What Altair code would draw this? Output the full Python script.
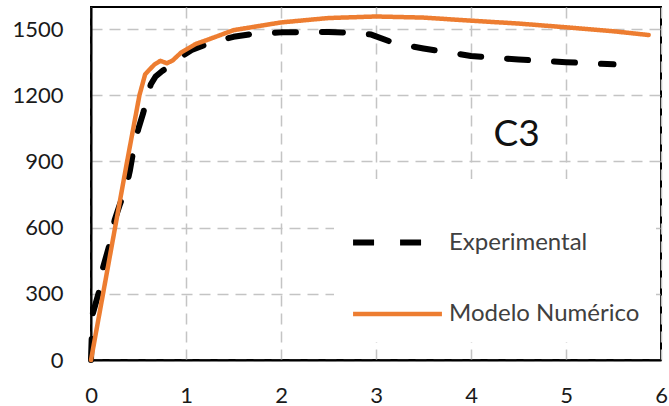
import altair as alt
import pandas as pd

# Experimental curve (x, y)
exp_x = [0, 0.015, 0.085, 0.12, 0.19, 0.25, 0.30, 0.375, 0.41, 0.45, 0.50, 0.55, 0.59, 0.63, 0.68,
         0.75, 0.83, 0.95, 1.06, 1.27, 1.5, 1.7, 2.0, 2.5, 2.75, 2.95, 3.2, 3.5, 4.0, 4.5, 5.0, 5.5]
exp_y = [0, 205, 310, 409, 515, 636, 700, 790, 860, 960, 1050, 1120, 1190, 1250, 1285,
         1310, 1333, 1375, 1405, 1440, 1465, 1478, 1485, 1487, 1483, 1475, 1435, 1412, 1378, 1362, 1350, 1340]

# Numerical model curve (x, y)
num_x = [0, 0.38, 0.51, 0.57, 0.62, 0.67, 0.73, 0.80, 0.86, 0.95, 1.1, 1.25, 1.5, 2.0, 2.5, 3.0,
         3.5, 4.0, 4.5, 5.0, 5.5, 5.87]
num_y = [0, 900, 1200, 1295, 1318, 1340, 1356, 1345, 1358, 1394, 1432, 1455, 1495, 1530, 1550, 1557,
         1552, 1538, 1525, 1508, 1490, 1473]

series_names = ["Experimental", "Modelo Numérico"]
x_ticks = [0, 1, 2, 3, 4, 5, 6]
y_ticks = [0, 300, 600, 900, 1200, 1500]

label_text = ["C3"]
label_x = [4.48]
label_y = [1018]

df = pd.concat([
    pd.DataFrame({"x": exp_x, "y": exp_y, "serie": series_names[0]}),
    pd.DataFrame({"x": num_x, "y": num_y, "serie": series_names[1]}),
])
df_lab = pd.DataFrame({"t": label_text, "x": label_x, "y": label_y})

FONT = "Lato"

x_scale = alt.Scale(domain=[0, 6], nice=False, zero=False)
y_scale = alt.Scale(domain=[0, 1600], nice=False)

lines = alt.Chart(df).mark_line(strokeCap="round", strokeJoin="round").encode(
    x=alt.X("x:Q", scale=x_scale,
            axis=alt.Axis(values=x_ticks, title=None, ticks=False, labelPadding=25, format="d",
                          grid=True, labelFlush=False)),
    y=alt.Y("y:Q", scale=y_scale,
            axis=alt.Axis(values=y_ticks, title=None, ticks=False, labelPadding=28, format="d",
                          grid=True, labelFlush=False)),
    color=alt.Color("serie:N", scale=alt.Scale(domain=series_names, range=["#000000", "#ED7D31"]),
                    legend=alt.Legend(title=None, orient="none", legendX=243, legendY=172,
                                      symbolType="stroke", symbolSize=7900, symbolStrokeWidth=6,
                                      labelFontSize=24, labelFont=FONT, labelColor="#404040",
                                      labelLimit=400,
                                      fillColor="white", padding=16, labelOffset=4, rowPadding=12)),
    strokeDash=alt.StrokeDash("serie:N", scale=alt.Scale(domain=series_names, range=[[21, 26], [1, 0]]),
                              legend=None),
    strokeWidth=alt.StrokeWidth("serie:N", scale=alt.Scale(domain=series_names, range=[6, 4.5]),
                                legend=None),
    order=alt.Order("x:Q"),
)

text = alt.Chart(df_lab).mark_text(font=FONT, fontSize=37, color="#111111").encode(
    x=alt.X("x:Q", scale=x_scale),
    y=alt.Y("y:Q", scale=y_scale),
    text="t:N",
)

chart = alt.layer(lines, text).properties(
    width=570, height=353,
    autosize=alt.AutoSizeParams(type="none"),
    padding={"left": 91, "top": 7, "right": 8, "bottom": 46},
).configure_view(
    stroke="#000000", strokeWidth=2,
).configure_axis(
    domainColor="#000000", domainWidth=2,
    gridColor="#c4c4c4", gridDash=[11, 7], gridWidth=1.5,
    labelFont=FONT, labelFontSize=22, labelColor="#1a1a1a",
)

chart.save("out.html", embed_options={"renderer": "svg", "actions": False})
